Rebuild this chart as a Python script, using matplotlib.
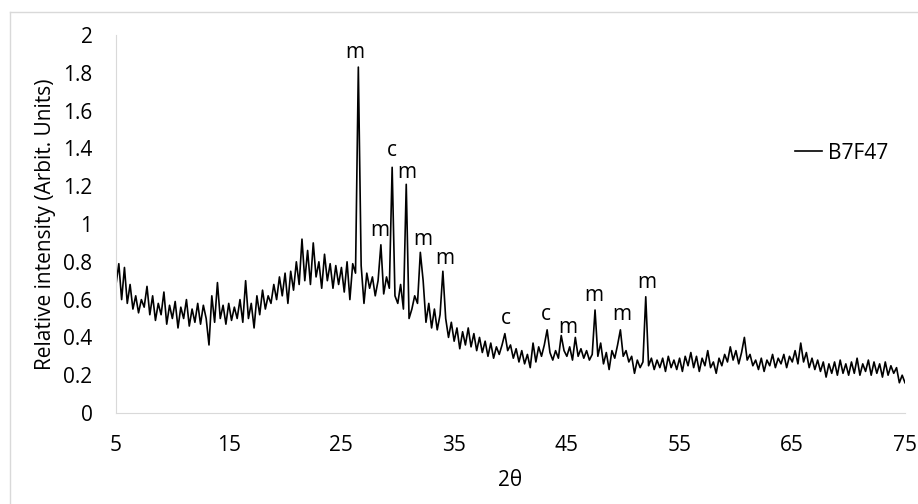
import numpy as np
import matplotlib
matplotlib.use("Agg")
import matplotlib.pyplot as plt
from matplotlib.lines import Line2D

# 2theta grid (0.25 deg steps, 5..75)
two_theta = np.arange(5.0, 75.001, 0.25)

# intensity values, 20 per 5-degree block
intensity = [
    # 5.00 - 9.75
    0.68, 0.79, 0.60, 0.77, 0.58, 0.68, 0.55, 0.62, 0.53, 0.60,
    0.56, 0.67, 0.52, 0.62, 0.49, 0.58, 0.52, 0.64, 0.47, 0.57,
    # 10.00 - 14.75
    0.50, 0.59, 0.45, 0.56, 0.50, 0.60, 0.46, 0.55, 0.48, 0.58,
    0.47, 0.57, 0.50, 0.36, 0.62, 0.48, 0.69, 0.50, 0.57, 0.47,
    # 15.00 - 19.75
    0.58, 0.49, 0.56, 0.50, 0.60, 0.48, 0.70, 0.50, 0.58, 0.45,
    0.62, 0.52, 0.65, 0.55, 0.62, 0.58, 0.68, 0.60, 0.72, 0.62,
    # 20.00 - 24.75
    0.74, 0.58, 0.75, 0.65, 0.80, 0.68, 0.92, 0.70, 0.86, 0.68,
    0.90, 0.72, 0.80, 0.66, 0.84, 0.70, 0.79, 0.66, 0.78, 0.68,
    # 25.00 - 29.75
    0.77, 0.64, 0.80, 0.60, 0.79, 0.74, 1.83, 0.78, 0.58, 0.74,
    0.66, 0.72, 0.62, 0.70, 0.89, 0.63, 0.72, 0.66, 1.30, 0.62,
    # 30.00 - 34.75
    0.58, 0.68, 0.55, 1.21, 0.50, 0.55, 0.62, 0.58, 0.85, 0.70,
    0.48, 0.58, 0.45, 0.55, 0.44, 0.52, 0.75, 0.50, 0.40, 0.48,
    # 35.00 - 39.75
    0.38, 0.45, 0.34, 0.43, 0.36, 0.45, 0.35, 0.42, 0.33, 0.40,
    0.32, 0.38, 0.30, 0.37, 0.29, 0.35, 0.31, 0.36, 0.42, 0.33,
    # 40.00 - 44.75
    0.36, 0.29, 0.34, 0.27, 0.33, 0.26, 0.31, 0.24, 0.37, 0.27,
    0.35, 0.30, 0.36, 0.44, 0.32, 0.28, 0.33, 0.29, 0.41, 0.33,
    # 45.00 - 49.75
    0.30, 0.35, 0.28, 0.40, 0.30, 0.34, 0.29, 0.33, 0.28, 0.31,
    0.545, 0.30, 0.37, 0.26, 0.32, 0.23, 0.33, 0.29, 0.36, 0.44,
    # 50.00 - 54.75
    0.30, 0.33, 0.27, 0.30, 0.21, 0.28, 0.24, 0.27, 0.615, 0.25,
    0.29, 0.23, 0.28, 0.24, 0.29, 0.22, 0.30, 0.24, 0.28, 0.23,
    # 55.00 - 59.75
    0.29, 0.22, 0.30, 0.25, 0.32, 0.24, 0.30, 0.22, 0.29, 0.25,
    0.33, 0.24, 0.27, 0.21, 0.29, 0.25, 0.31, 0.27, 0.35, 0.28,
    # 60.00 - 64.75
    0.33, 0.26, 0.32, 0.40, 0.28, 0.31, 0.25, 0.28, 0.23, 0.29,
    0.22, 0.28, 0.25, 0.31, 0.24, 0.29, 0.26, 0.31, 0.24, 0.30,
    # 65.00 - 69.75
    0.27, 0.33, 0.26, 0.37, 0.27, 0.32, 0.24, 0.29, 0.23, 0.28,
    0.22, 0.27, 0.19, 0.26, 0.21, 0.27, 0.20, 0.28, 0.21, 0.26,
    # 70.00 - 75.00
    0.20, 0.27, 0.21, 0.29, 0.20, 0.26, 0.22, 0.28, 0.20, 0.27,
    0.21, 0.26, 0.19, 0.27, 0.20, 0.25, 0.21, 0.24, 0.16, 0.20,
    0.16,
]

# phase labels (m / c) and where they sit
peak_labels = ["m", "c", "m", "m", "m", "m", "c", "c", "m", "m", "m", "m"]
peak_x = [26.2, 29.46, 30.8, 28.4, 32.2, 34.2, 39.6, 43.15, 45.05, 47.4, 49.9, 52.1]
peak_y = [1.91, 1.39, 1.27, 0.965, 0.92, 0.82, 0.50, 0.52, 0.45, 0.62, 0.52, 0.69]

plt.rcParams['font.family'] = ['Open Sans', 'DejaVu Sans']
fs = 15

fig = plt.figure(figsize=(9.18, 5.04), dpi=100)
ax = fig.add_axes([116 / 918, 1 - 413 / 504, (905 - 116) / 918, (413 - 35) / 504])

ax.plot(two_theta, intensity, color='black', lw=1.2, label='B7F47')

for lab, px, py in zip(peak_labels, peak_x, peak_y):
    ax.text(px, py, lab, ha='center', va='center', fontsize=fs)

ax.set_xlim(5, 75)
ax.set_ylim(0, 2)
ax.set_xticks([5, 15, 25, 35, 45, 55, 65, 75])
ax.set_yticks([0, 0.2, 0.4, 0.6, 0.8, 1.0, 1.2, 1.4, 1.6, 1.8, 2.0])
ax.set_yticklabels(['0', '0.2', '0.4', '0.6', '0.8', '1', '1.2', '1.4', '1.6', '1.8', '2'])
ax.tick_params(length=0, labelsize=fs)
ax.tick_params(axis='y', pad=17)
ax.tick_params(axis='x', pad=16)

for s in ['top', 'right']:
    ax.spines[s].set_visible(False)
for s in ['left', 'bottom']:
    ax.spines[s].set_color('#d9d9d9')

ax.set_xlabel('2θ', fontsize=fs, labelpad=10)
ax.set_ylabel('Relative intensity (Arbit. Units)', fontsize=fs, labelpad=5)

ax.legend(loc='upper left', bbox_to_anchor=(776 / 918, 1 - 124 / 504),
          bbox_transform=fig.transFigure, frameon=False, fontsize=fs,
          handlelength=1.3, handletextpad=0.3)

# outer chart border
fig.add_artist(Line2D([10 / 918, 1], [1 - 12 / 504, 1 - 12 / 504], color='#d9d9d9', lw=1))
fig.add_artist(Line2D([10 / 918, 10 / 918], [0, 1 - 12 / 504], color='#d9d9d9', lw=1))

fig.savefig('out.png', dpi=100)
